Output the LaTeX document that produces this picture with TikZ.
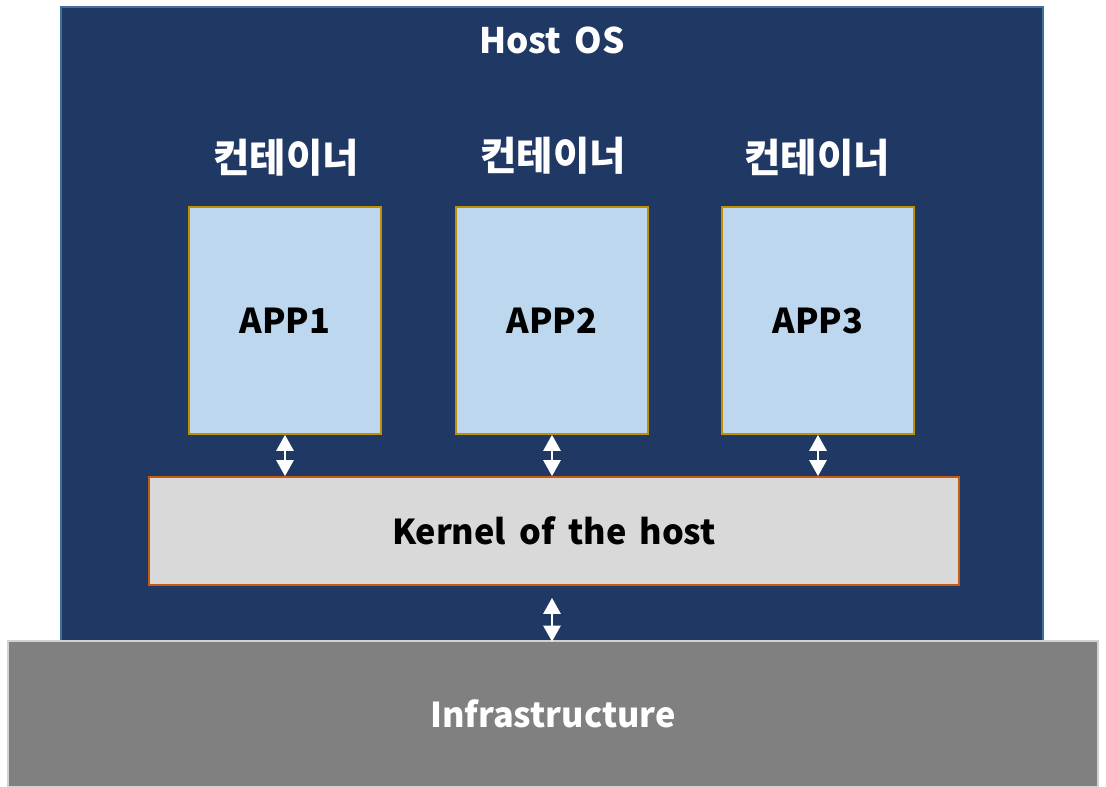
\documentclass[tikz,border=0pt]{standalone}
\usepackage{fontspec}
\setmainfont{Noto Sans CJK KR}
\newfontfamily\widefont{Noto Sans CJK KR}[WordSpace=1.7]
\usetikzlibrary{arrows.meta}
\definecolor{hostblue}{HTML}{203864}
\definecolor{hostedge}{HTML}{41719C}
\definecolor{appblue}{HTML}{BDD7EE}
\definecolor{appedge}{HTML}{BF9000}
\definecolor{kernelgray}{HTML}{D9D9D9}
\definecolor{kerneledge}{HTML}{C55A11}
\tikzstyle{hostbox} = [rectangle, minimum width=19.64cm, minimum height=12.68cm, draw=hostedge, line width=0.8pt, fill=hostblue]
\tikzstyle{infrabox} = [rectangle, minimum width=21.8cm, minimum height=2.92cm, draw=gray!35, line width=0.8pt, fill=black!50, text=white, font=\fontsize{19.5}{23}\selectfont\bfseries]
\tikzstyle{app} = [rectangle, minimum width=3.84cm, minimum height=4.54cm, draw=appedge, line width=1pt, fill=appblue, font=\fontsize{19.5}{23}\selectfont\bfseries]
\tikzstyle{kernel} = [rectangle, minimum width=16.2cm, minimum height=2.16cm, draw=kerneledge, line width=1pt, fill=kernelgray, font=\widefont\fontsize{19.5}{23}\selectfont\bfseries]
\tikzstyle{ctitle} = [text=white, font=\fontsize{22.5}{26}\selectfont\bfseries]
\tikzstyle{arrow} = [white, line width=1.6pt, {Triangle[width=0.34cm,length=0.32cm]}-{Triangle[width=0.34cm,length=0.32cm]}]

\begin{document}
\begin{tikzpicture}[x=0.02cm, y=-0.02cm]
\useasboundingbox (0,0) rectangle (1106,787);
\node (host) [hostbox] at (552,324) {};
\node (hosttitle) [text=white, font=\widefont\fontsize{20}{24}\selectfont\bfseries] at (552,40) {Host OS};
\node (infra) [infrabox] at (553,714) {Infrastructure};

\node (c1) [ctitle] at (286,158) {컨테이너};
\node (c2) [ctitle] at (553,156) {컨테이너};
\node (c3) [ctitle] at (817,158) {컨테이너};

\node (app1) [app] at (285,320.5) {APP1};
\node (app2) [app] at (552,320.5) {APP2};
\node (app3) [app] at (818,320.5) {APP3};

\node (kernel) [kernel] at (554,531) {Kernel of the host};

 \draw [arrow] (app1.south) -- (app1.south |- kernel.north);
 \draw [arrow] (app2.south) -- (app2.south |- kernel.north);
 \draw [arrow] (app3.south) -- (app3.south |- kernel.north);
 \draw [arrow, shorten <=0.24cm] (kernel.south -| host.south) -- (host.south);

\end{tikzpicture}
\end{document}
